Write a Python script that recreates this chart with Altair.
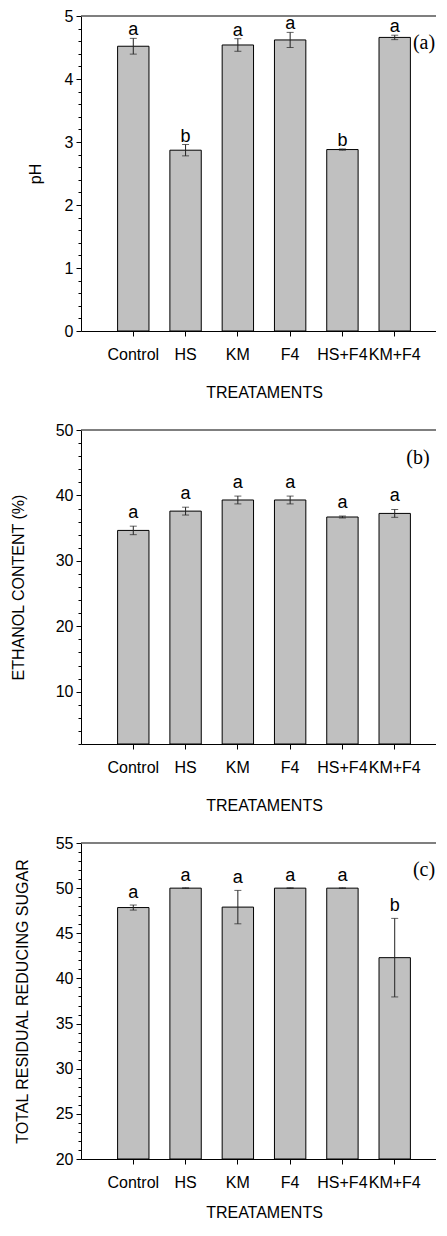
import altair as alt
import pandas as pd

treatments = ["Control", "HS", "KM", "F4", "HS+F4", "KM+F4"]

ph_mean = [4.52, 2.87, 4.54, 4.62, 2.88, 4.66]
ph_err = [0.125, 0.09, 0.10, 0.12, 0.01, 0.035]
ph_letters = ["a", "b", "a", "a", "b", "a"]

eth_mean = [34.65, 37.6, 39.3, 39.3, 36.7, 37.25]
eth_err = [0.65, 0.6, 0.6, 0.6, 0.15, 0.6]
eth_letters = ["a", "a", "a", "a", "a", "a"]

sug_mean = [47.85, 50.0, 47.9, 50.0, 50.0, 42.3]
sug_err = [0.28, 0.04, 1.85, 0.04, 0.04, 4.35]
sug_letters = ["a", "a", "a", "a", "a", "b"]

FONT = "Liberation Sans"
W = 366


def panel(mean, err, letters, ymin, ymax, major, minor, ytitle, title_x,
          tag, tag_x, tag_y, letter_dy, height, title_pad):
    df = pd.DataFrame({
        "t": treatments,
        "m": mean,
        "lo": [m - e for m, e in zip(mean, err)],
        "hi": [m + e for m, e in zip(mean, err)],
        "letter": letters,
    })
    n = int(round((ymax - ymin) / minor))
    ticks = [round(ymin + i * minor, 6) for i in range(n + 1)]
    is_major = f"abs(datum.value/{major} - round(datum.value/{major})) < 1e-6"

    xscale = alt.Scale(paddingInner=0.4, paddingOuter=0.7)
    xaxis = alt.Axis(title="TREATAMENTS", labelAngle=0, labelPadding=10,
                     titlePadding=title_pad, tickSize=5, labelOverlap=False,
                     labelBound=False)
    X = alt.X("t:N", sort=treatments, scale=xscale, axis=xaxis)

    yscale = alt.Scale(domain=[ymin, ymax], nice=False, zero=False)
    yaxis = alt.Axis(values=ticks,
                     labelExpr=f"{is_major} ? format(datum.value, '~g') : ''",
                     tickSize={"condition": {"test": is_major, "value": 5}, "value": 3},
                     labelPadding=3, labelOverlap=False, title=ytitle, titleX=title_x,
                     titleBaseline="middle", titleAngle=270)

    def Y(f):
        return alt.Y(f, type="quantitative", scale=yscale, axis=yaxis)

    base = alt.Chart(df)
    bars = base.mark_bar(fill="#c0c0c0", stroke="black", strokeWidth=1).encode(
        x=X, y=Y("m"), y2=alt.datum(ymin))
    rule = base.mark_rule(color="#222222", strokeWidth=1).encode(
        x=X, y=Y("lo"), y2="hi:Q")
    cap_lo = base.mark_tick(color="#222222", size=7, thickness=1).encode(x=X, y=Y("lo"))
    cap_hi = base.mark_tick(color="#222222", size=7, thickness=1).encode(x=X, y=Y("hi"))
    text = base.mark_text(font=FONT, fontSize=18, baseline="alphabetic", dy=letter_dy,
                          color="black").encode(x=X, y=Y("hi"), text="letter:N")
    frame = alt.Chart(pd.DataFrame({"tag": [tag]}))
    top_line = frame.mark_rule(color="#555555", strokeWidth=1.5).encode(
        x=alt.value(0), x2=alt.value(W), y=alt.value(0))
    tag_layer = frame.mark_text(
        font="Liberation Serif", fontSize=20, align="center", baseline="middle",
        color="black").encode(text="tag:N", x=alt.value(tag_x), y=alt.value(tag_y))

    return alt.layer(bars, rule, cap_lo, cap_hi, text, top_line, tag_layer).properties(
        width=W, height=height)


pa = panel(ph_mean, ph_err, ph_letters, 0, 5, 1, 0.2, "pH", -46,
           "(a)", 343, 27, -3, 315, 22)
pb = panel(eth_mean, eth_err, eth_letters, 2, 50, 10, 2, "ETHANOL CONTENT (%)", -63,
           "(b)", 337, 28, -8, 314, 22)
pc = panel(sug_mean, sug_err, sug_letters, 20, 55, 5, 1, "TOTAL RESIDUAL REDUCING SUGAR", -59,
           "(c)", 343, 27, -7, 316, 14)

chart = alt.vconcat(pa, pb, pc, spacing=99, bounds="flush").properties(
    padding={"left": 2, "top": 0, "right": -12, "bottom": 0},
).configure_view(stroke=None).configure_axis(
    labelFont=FONT, labelFontSize=16, labelColor="black",
    titleFont=FONT, titleFontSize=16, titleFontWeight="normal", titleColor="black",
    domainColor="black", tickColor="black", grid=False,
)

chart.save("out.html", embed_options={"renderer": "svg", "actions": False})
